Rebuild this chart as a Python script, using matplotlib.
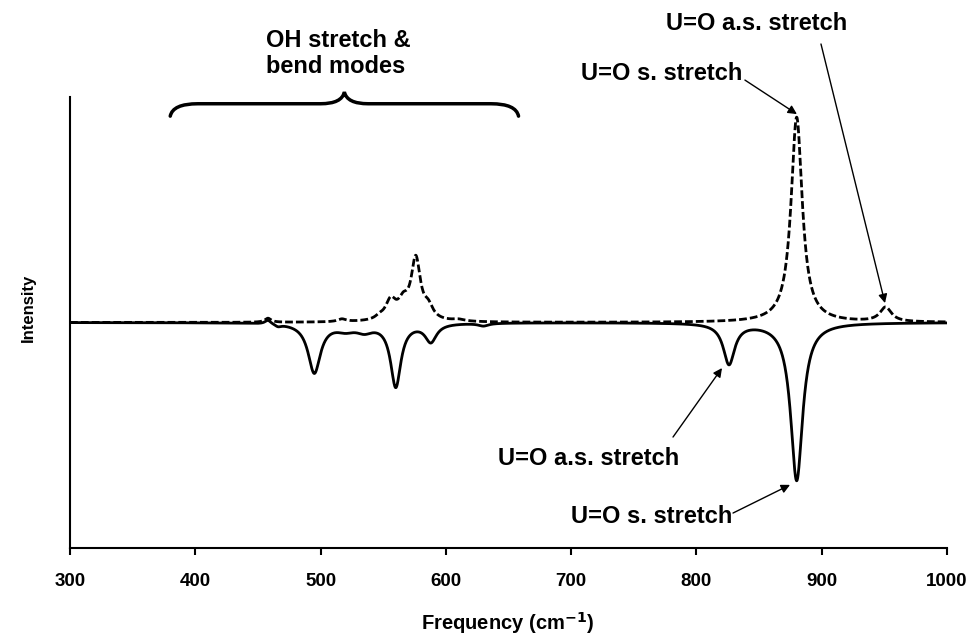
import numpy as np
import matplotlib
matplotlib.use("Agg")
import matplotlib.pyplot as plt
from matplotlib.path import Path
from matplotlib.patches import PathPatch

plt.rcParams["font.family"] = ["Liberation Sans", "DejaVu Sans"]
plt.rcParams["font.weight"] = "bold"

# peak tables (centre cm-1, height, half width cm-1)
DASH_CENTERS = [458, 517, 547, 556, 566, 576, 586, 610, 880, 951]
DASH_HEIGHTS = [0.018, 0.012, 0.012, 0.085, 0.07, 0.27, 0.05, 0.008, 0.91, 0.064]
DASH_WIDTHS  = [3.0, 4.0, 4.0, 5.0, 5.0, 4.5, 4.5, 6.0, 5.4, 5.5]

SOLID_CENTERS = [458, 466, 495, 520, 535, 560, 588, 630, 826, 880]
SOLID_HEIGHTS = [0.018, -0.01, -0.22, -0.025, -0.03, -0.28, -0.08, -0.012, -0.18, -0.70]
SOLID_WIDTHS  = [3.0, 3.0, 6.0, 9.0, 8.0, 5.0, 5.5, 5.0, 5.5, 5.8]

XTICKS = [300, 400, 500, 600, 700, 800, 900, 1000]


def broaden(freq, centers, heights, widths):
    """Lorentzian broadening of a stick spectrum."""
    out = np.zeros_like(freq)
    for c, h, g in zip(centers, heights, widths):
        out += h * g**2 / (g**2 + (freq - c)**2)
    return out


freq = np.linspace(300, 1000, 3501)
dashed = broaden(freq, DASH_CENTERS, DASH_HEIGHTS, DASH_WIDTHS)
solid = broaden(freq, SOLID_CENTERS, SOLID_HEIGHTS, SOLID_WIDTHS)

fig = plt.figure(figsize=(9.71, 6.41), dpi=100)
ax = fig.add_axes([0.0721, 0.1451, 0.9032, 0.7036])

ax.plot(freq, solid, color="black", lw=2.0, solid_capstyle="butt")
ax.plot(freq, dashed, color="black", lw=2.0, dashes=(2.8, 1.1))

ax.set_xlim(300, 1000)
ax.set_ylim(-1, 1)
ax.set_xticks(XTICKS)
ax.set_yticks([])
for s in ("top", "right"):
    ax.spines[s].set_visible(False)
for s in ("left", "bottom"):
    ax.spines[s].set_linewidth(1.5)
ax.tick_params(axis="x", direction="out", length=5, width=1.5, pad=13,
               labelsize=13.5)
for lab in ax.get_xticklabels():
    lab.set_fontweight("bold")

ax.set_xlabel(r"Frequency (cm$^{\mathbf{-1}}$)", fontsize=14.5, fontweight="bold")
ax.xaxis.set_label_coords(0.4994, -0.1375)
ax.set_ylabel("Intensity", fontsize=12, fontweight="bold")
ax.yaxis.set_label_coords(-0.039, 0.532)

# curly brace over the OH region
verts = [(380, 0.915), (382, 0.97), (402, 0.97), (500, 0.97),
         (517, 0.97), (519, 1.022), (521, 0.97), (538, 0.97),
         (636, 0.97), (656, 0.97), (658, 0.915)]
codes = [Path.MOVETO, Path.CURVE3, Path.CURVE3, Path.LINETO,
         Path.CURVE3, Path.CURVE3, Path.CURVE3, Path.CURVE3,
         Path.LINETO, Path.CURVE3, Path.CURVE3]
ax.add_patch(PathPatch(Path(verts, codes), fill=False, lw=2.5,
                       color="black", clip_on=False, capstyle="round"))

txt = dict(fontsize=17, fontweight="bold", ha="center", va="center",
           clip_on=False)
ax.text(514, 1.193, "OH stretch &\nbend modes", linespacing=1.15,
        multialignment="left", **txt)
ax.text(848, 1.328, "U=O a.s. stretch", **txt)
ax.text(772.5, 1.102, "U=O s. stretch", **txt)
ax.text(714, -0.605, "U=O a.s. stretch", **txt)
ax.text(764, -0.862, "U=O s. stretch", **txt)

arrow = dict(arrowstyle="-|>", lw=1.0, color="black", mutation_scale=13,
             shrinkA=0, shrinkB=0)
for tail, head in [((899.4, 1.235), (950.5, 0.086)),
                   ((838.7, 1.075), (880.2, 0.924)),
                   ((781.3, -0.508), (820.4, -0.202)),
                   ((829.2, -0.845), (874.7, -0.72))]:
    ax.annotate("", xy=head, xytext=tail, arrowprops=arrow,
                annotation_clip=False)

fig.savefig("out.png", dpi=100)
